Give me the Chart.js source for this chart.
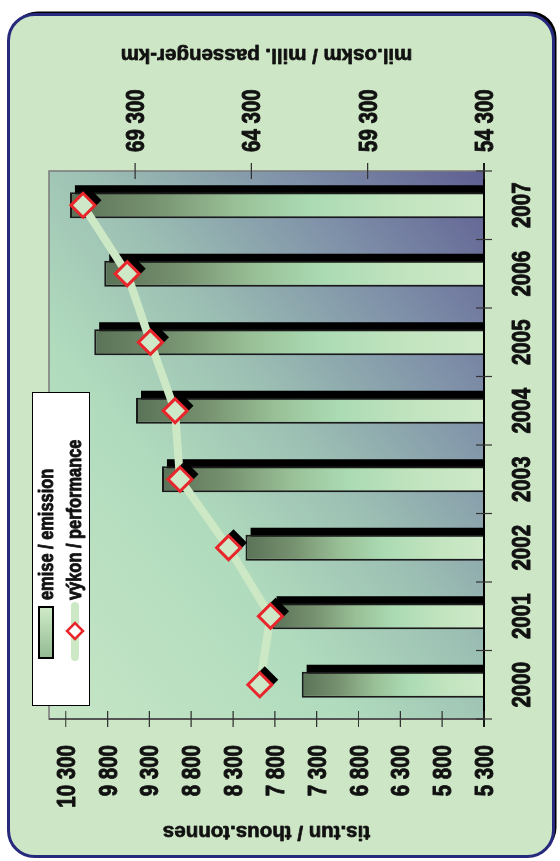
<!DOCTYPE html>
<html>
<head>
<meta charset="utf-8">
<title>emise / výkon</title>
<script src="https://cdn.jsdelivr.net/npm/chart.js@4.4.0/dist/chart.umd.min.js"></script>
<style>
    html, body { margin: 0; padding: 0; background: #fff; overflow: hidden; }
    /* the chart is drawn upright, then turned a quarter to the left */
    #wrap {
        position: absolute; left: 0; top: 0;
        width: 861px; height: 560px;
        transform-origin: 0 0;
        transform: translateY(861px) rotate(-90deg);
    }
</style>
</head>
<body>
<div id="wrap"><canvas id="chart" width="861" height="560"></canvas></div>
<script>
// Data
const years = ['2000', '2001', '2002', '2003', '2004', '2005', '2006', '2007'];
const emission = [7480, 7840, 8150, 9150, 9460, 9960, 9840, 10250];        // tis.tun
const performance = [63940, 63480, 65280, 67370, 67580, 68640, 69640, 71540]; // mil.oskm
const emissionTicks = [5300, 5800, 6300, 6800, 7300, 7800, 8300, 8800, 9300, 9800, 10300];
const performanceTicks = [54300, 59300, 64300, 69300];

const emissionTitle = 'tis.tun / thous.tonnes';
const performanceTitle = 'mil.oskm / mill. passenger-km';
const legendLabels = ['emise / emission', 'výkon / performance'];

const SANS = '"Liberation Sans", Arial, sans-serif';
const INK = '#111';

function formatNumber(v) {
    return String(v).replace(/\B(?=(\d{3})+(?!\d))/g, ' ');
}

// heavy text: fill plus a thin stroke of the same colour
function heavyText(ctx, text, x, y, w) {
    ctx.fillStyle = INK;
    ctx.strokeStyle = INK;
    ctx.lineWidth = w;
    ctx.lineJoin = 'round';
    ctx.fillText(text, x, y);
    ctx.strokeText(text, x, y);
}

// Liberation Sans squeezed sideways, to look like a narrow bold face
function narrowText(ctx, text, x, y, size, align) {
    ctx.save();
    ctx.font = 'bold ' + size + 'px ' + SANS;
    ctx.textAlign = align || 'left';
    ctx.textBaseline = 'alphabetic';
    ctx.translate(x, y);
    ctx.scale(0.82, 1);
    heavyText(ctx, text, 0, 0, 0.9);
    ctx.restore();
}

// Bar fill: dark at the top of each bar, light green towards the base
function barGradient(context) {
    const chart = context.chart;
    if (!chart.chartArea || context.type !== 'data') return '#9fc79e';
    const y = chart.scales.y;
    const top = y.getPixelForValue(context.raw);
    const base = y.getPixelForValue(y.min);
    const g = chart.ctx.createLinearGradient(0, top, 0, base);
    g.addColorStop(0, '#5a7257');
    g.addColorStop(0.2, '#76916f');
    g.addColorStop(0.4, '#99c097');
    g.addColorStop(0.58, '#abdbb3');
    g.addColorStop(0.8, '#c2e4bf');
    g.addColorStop(1, '#cee9c8');
    return g;
}

// Background card and plot area gradient
const backdrop = {
    id: 'backdrop',
    beforeDraw(chart) {
        const ctx = chart.ctx;
        const a = chart.chartArea;
        ctx.save();
        ctx.fillStyle = '#ffffff';
        ctx.fillRect(0, 0, chart.width, chart.height);

        ctx.fillStyle = '#000';
        ctx.beginPath();
        ctx.roundRect(7.5, 11.5, 842, 545, 26);
        ctx.fill();
        ctx.beginPath();
        ctx.roundRect(4.5, 8.5, 842, 545, 26);
        ctx.fillStyle = '#cde6c5';
        ctx.fill();
        ctx.lineWidth = 3;
        ctx.strokeStyle = '#272a7c';
        ctx.stroke();

        const w = a.right - a.left, h = a.bottom - a.top;
        const cx = (a.left + a.right) / 2, cy = (a.top + a.bottom) / 2;
        const k = w * h / (w * w + h * h);
        const g = ctx.createLinearGradient(cx - h * k, cy - w * k, cx + h * k, cy + w * k);
        g.addColorStop(0, '#c6e6c6');
        g.addColorStop(0.35, '#b0dbbd');
        g.addColorStop(0.55, '#9cbfb3');
        g.addColorStop(0.78, '#7e8fa8');
        g.addColorStop(1, '#5f5f92');
        ctx.fillStyle = g;
        ctx.fillRect(a.left, a.top, w, h);
        ctx.restore();
    }
};

// Hard black drop shadow behind bars and markers
const shadows = {
    id: 'shadows',
    beforeDatasetDraw(chart, args) {
        const ds = chart.data.datasets[args.index];
        if (!ds.shadow) return;
        const ctx = chart.ctx;
        const a = chart.chartArea;
        const d = ds.shadow;
        ctx.save();
        ctx.beginPath();
        ctx.rect(a.left, a.top, a.right - a.left, a.bottom - a.top);
        ctx.clip();
        ctx.fillStyle = '#000';
        args.meta.data.forEach(el => {
            if (ds.pointStyle) {
                const r = el.options.radius + el.options.borderWidth / 2;
                ctx.beginPath();
                ctx.moveTo(el.x + d - r, el.y + d);
                ctx.lineTo(el.x + d, el.y + d - r);
                ctx.lineTo(el.x + d + r, el.y + d);
                ctx.lineTo(el.x + d, el.y + d + r);
                ctx.closePath();
                ctx.fill();
            } else {
                const p = el.getProps(['x', 'y', 'base', 'width'], true);
                ctx.fillRect(p.x - p.width / 2 + d, p.y - 1 + d, p.width + 1, p.base - p.y);
            }
        });
        ctx.restore();
    }
};

// Frame, crossing tick marks, labels, axis titles and the legend box
const decorations = {
    id: 'decorations',
    afterDraw(chart) {
        const ctx = chart.ctx;
        const a = chart.chartArea;
        const sx = chart.scales.x, sy = chart.scales.y, sy1 = chart.scales.y1;
        ctx.save();

        ctx.strokeStyle = '#7a7a7a';
        ctx.lineWidth = 1.5;
        ctx.strokeRect(a.left, a.top, a.right - a.left, a.bottom - a.top);
        ctx.strokeStyle = '#555';
        ctx.lineWidth = 2;
        ctx.beginPath();
        ctx.moveTo(a.left, a.top); ctx.lineTo(a.left, a.bottom);
        ctx.stroke();
        ctx.strokeStyle = '#000';
        ctx.beginPath();
        ctx.moveTo(a.left - 8, a.bottom); ctx.lineTo(a.right + 8, a.bottom);
        ctx.stroke();

        ctx.lineWidth = 1.2;
        ctx.strokeStyle = '#333';
        ctx.beginPath();
        for (let i = 0; i <= years.length; i++) {
            const px = sx.getPixelForValue(i - 0.5);
            ctx.moveTo(px, a.bottom - 8); ctx.lineTo(px, a.bottom + 8);
        }
        emissionTicks.forEach(v => {
            const py = sy.getPixelForValue(v);
            ctx.moveTo(a.left - 8, py); ctx.lineTo(a.left + 8, py);
        });
        performanceTicks.forEach(v => {
            const py = sy1.getPixelForValue(v);
            ctx.moveTo(a.right - 8, py); ctx.lineTo(a.right + 8, py);
        });
        ctx.stroke();

        // tick labels
        years.forEach((t, i) => narrowText(ctx, t, sx.getPixelForValue(i), a.bottom + 46, 25, 'center'));
        emissionTicks.forEach(v => narrowText(ctx, formatNumber(v), a.left - 26, sy.getPixelForValue(v) + 9, 25, 'right'));
        performanceTicks.forEach(v => narrowText(ctx, formatNumber(v), a.right + 19, sy1.getPixelForValue(v) + 9, 25, 'left'));

        // axis titles, both reading bottom to top
        const midY = (a.top + a.bottom) / 2;
        ctx.font = 'bold 20.5px ' + SANS;
        ctx.textAlign = 'center';
        ctx.textBaseline = 'middle';
        [[29, emissionTitle], [806, performanceTitle]].forEach(([x, t]) => {
            ctx.save();
            ctx.translate(x, midY);
            ctx.rotate(-Math.PI / 2);
            heavyText(ctx, t, 0, 0, 0.7);
            ctx.restore();
        });

        // legend
        ctx.fillStyle = '#fff';
        ctx.fillRect(155, 32, 313, 57);
        ctx.strokeStyle = '#000';
        ctx.lineWidth = 1;
        ctx.strokeRect(155.5, 32.5, 313, 57);

        const sw = ctx.createLinearGradient(203, 0, 254, 0);
        sw.addColorStop(0, '#92bb92');
        sw.addColorStop(1, '#cfeac8');
        ctx.fillStyle = sw;
        ctx.fillRect(203, 39, 51, 14);
        ctx.lineWidth = 2;
        ctx.strokeRect(203, 39, 51, 14);

        ctx.strokeStyle = '#cde8c5';
        ctx.lineWidth = 8;
        ctx.lineCap = 'round';
        ctx.beginPath();
        ctx.moveTo(204, 75); ctx.lineTo(255, 75);
        ctx.stroke();
        ctx.lineCap = 'butt';
        ctx.beginPath();
        ctx.moveTo(222, 75); ctx.lineTo(230, 67); ctx.lineTo(238, 75); ctx.lineTo(230, 83);
        ctx.closePath();
        ctx.fillStyle = '#fff';
        ctx.fill();
        ctx.strokeStyle = '#e8262b';
        ctx.lineWidth = 2.5;
        ctx.stroke();

        narrowText(ctx, legendLabels[0], 261, 53, 20, 'left');
        narrowText(ctx, legendLabels[1], 261, 81, 20, 'left');
        ctx.restore();
    }
};

Chart.defaults.font.family = SANS;
Chart.defaults.font.weight = 'bold';
Chart.defaults.color = INK;

new Chart(document.getElementById('chart'), {
    type: 'bar',
    data: {
        labels: years,
        datasets: [
            {
                label: legendLabels[0],
                data: emission,
                yAxisID: 'y',
                backgroundColor: barGradient,
                borderColor: '#1a1a1a',
                borderWidth: 2,
                borderSkipped: false,
                categoryPercentage: 1,
                barPercentage: 0.38,
                shadow: 6,
                order: 3
            },
            {
                type: 'line',
                label: legendLabels[1],
                data: performance,
                yAxisID: 'y1',
                borderColor: '#cde8c5',
                borderWidth: 8,
                borderJoinStyle: 'round',
                borderCapStyle: 'round',
                tension: 0,
                pointRadius: 0,
                order: 2
            },
            {
                type: 'line',
                label: 'markers',
                data: performance,
                yAxisID: 'y1',
                showLine: false,
                pointStyle: 'rectRot',
                pointRadius: 12,
                pointBorderWidth: 3,
                pointBorderColor: '#e8262b',
                pointBackgroundColor: '#cfe8c7',
                shadow: 5,
                order: 1
            }
        ]
    },
    options: {
        responsive: false,
        animation: false,
        events: [],
        layout: { padding: { top: 49, left: 0, right: 0, bottom: 0 } },
        plugins: {
            legend: { display: false },
            tooltip: { enabled: false }
        },
        scales: {
            x: {
                offset: true,
                grid: { display: false, drawTicks: false },
                border: { display: false },
                ticks: { display: false },
                afterFit(scale) { scale.height = 76; }
            },
            y: {
                position: 'left',
                min: 5300,
                max: 10500,
                grid: { display: false, drawTicks: false },
                border: { display: false },
                ticks: { display: false },
                afterBuildTicks(scale) { scale.ticks = emissionTicks.map(v => ({ value: v })); },
                afterFit(scale) { scale.width = 142; }
            },
            y1: {
                position: 'right',
                min: 54300,
                max: 73000,
                grid: { display: false, drawTicks: false },
                border: { display: false },
                ticks: { display: false },
                afterBuildTicks(scale) { scale.ticks = performanceTicks.map(v => ({ value: v })); },
                afterFit(scale) { scale.width = 171; }
            }
        }
    },
    plugins: [backdrop, shadows, decorations]
});
</script>
</body>
</html>
